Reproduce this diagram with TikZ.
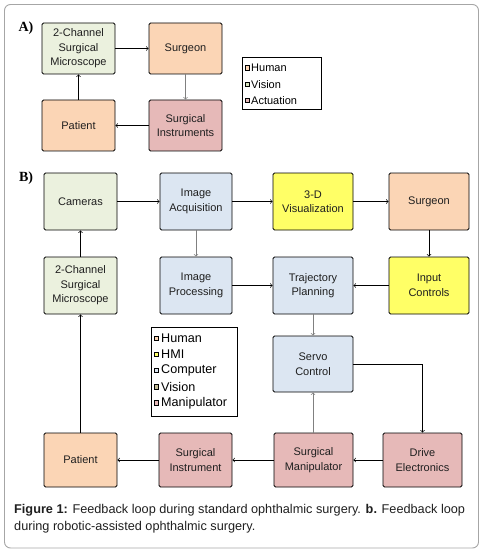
\documentclass[tikz,border=0pt]{standalone}
\usepackage{fontspec}
\setmainfont{Liberation Sans}
\newfontfamily\labelfont{Liberation Serif}
\usepackage{tikz}
\usetikzlibrary{positioning}
\definecolor{humanfill}{HTML}{FBD5B5}
\definecolor{visionfill}{HTML}{EBF1DE}
\definecolor{compfill}{HTML}{DCE6F2}
\definecolor{hmifill}{HTML}{FFFF66}
\definecolor{actfill}{HTML}{E6B9B8}
\definecolor{visionmark}{HTML}{C4BD97}
\definecolor{visionmarkA}{HTML}{D7E4BD}
\definecolor{framegray}{HTML}{A6A6A6}
\definecolor{textdark}{HTML}{1F1F1F}

\tikzset{
  block/.style={draw, line width=0.9pt, rounded corners=1.5pt, align=center,
    minimum width=#1, minimum height=57pt, inner sep=1pt, text=textdark,
    font=\fontsize{11}{14.5}\selectfont},
  block/.default=73pt,
  link/.style={->, line width=0.7pt},
  greylink/.style={->, line width=0.7pt, draw=gray},
  legbox/.style={draw, line width=0.8pt, inner sep=0pt},
  legmark/.style={draw, line width=0.5pt, minimum size=4.5pt, inner sep=0pt, fill=#1}
}

\begin{document}
\begin{tikzpicture}[x=1pt, y=-1pt]
            \useasboundingbox (0,0) rectangle (483,556);
            \draw[framegray, line width=0.9pt, rounded corners=6pt] (4.5,4.5) rectangle (478.5,548);

            % Part A
            \node (labA) at (26,28) {\labelfont\bfseries\fontsize{14}{14}\selectfont A)};
            \node[block, minimum height=51pt, fill=visionfill] (micA) at (78.5,48.5) {2-Channel\\Surgical\\Microscope};
            \node[block, minimum height=51pt, fill=humanfill] (surA) at (185.5,48.5) {Surgeon};
            \node[block, minimum height=51pt, fill=humanfill] (patA) at (78.5,125.5) {Patient};
            \node[block, minimum height=51pt, fill=actfill] (insA) at (185.5,125.5) {Surgical\\Instruments};

            \draw[link] (micA) -- (surA);
            \draw[greylink] (surA) -- (insA);
            \draw[link] (insA) -- (patA);
            \draw[link] (patA) -- (micA);

            % Legend A
            \draw[legbox] (242,57) rectangle (321,109);
            \node[legmark=humanfill] (mAh) at (247,68) {};
            \node[legmark=visionmarkA] (mAv) at (247,84.5) {};
            \node[legmark=actfill] (mAa) at (247,100.5) {};
            \node[anchor=west, inner sep=0pt, font=\fontsize{11}{12}\selectfont] at (251,68) {Human};
            \node[anchor=west, inner sep=0pt, font=\fontsize{11}{12}\selectfont] at (251,84.5) {Vision};
            \node[anchor=west, inner sep=0pt, font=\fontsize{11}{12}\selectfont] at (251,100.5) {Actuation};

            % Part B
            \node (labB) at (26,178) {\labelfont\bfseries\fontsize{14}{14}\selectfont B)};
            \node[block, fill=visionfill] (cam) at (80.5,201.5) {Cameras};
            \node[block=72pt, fill=compfill] (acq) at (196,201.5) {Image\\Acquisition};
            \node[block=80pt, fill=hmifill] (vis) at (313,201.5) {3-D\\Visualization};
            \node[block=80pt, fill=humanfill] (surB) at (429,201.5) {Surgeon};

            \node[block, fill=visionfill] (micB) at (80.5,285.5) {2-Channel\\Surgical\\Microscope};
            \node[block=72pt, fill=compfill] (proc) at (196,285.5) {Image\\Processing};
            \node[block=80pt, fill=compfill] (traj) at (313,285.5) {Trajectory\\Planning};
            \node[block=80pt, fill=hmifill] (inp) at (429,285.5) {Input\\Controls};

            \node[block=80pt, minimum height=56pt, fill=compfill] (servo) at (313,364) {Servo\\Control};

            \node[block, minimum height=54pt, fill=humanfill] (patB) at (80.5,460) {Patient};
            \node[block, minimum height=54pt, fill=actfill] (inst) at (195.5,460) {Surgical\\Instrument};
            \node[block=79pt, minimum height=54pt, fill=actfill] (man) at (313.5,460) {Surgical\\Manipulator};
            \node[block=79pt, minimum height=54pt, fill=actfill] (drv) at (422.5,460) {Drive\\Electronics};

            % Connections B
            \draw[link] (cam) -- (acq);
            \draw[link] (acq) -- (vis);
            \draw[link] (vis) -- (surB);
            \draw[link] (surB) -- (inp);
            \draw[link] (inp) -- (traj);
            \draw[link] (proc) -- (traj);
            \draw[greylink] (acq) -- (proc);
            \draw[link] (micB) -- (cam);
            \draw[link] (patB) -- (micB);
            \draw[greylink] (traj) -- (servo);
            \draw[link] (servo.east) -| (drv.north);
            \draw[greylink] (man.north -| servo.south) -- (servo.south);
            \draw[link] (drv) -- (man);
            \draw[link] (man) -- (inst);
            \draw[link] (inst) -- (patB);

            % Legend B
            \draw[legbox] (151,327) rectangle (237,416.5);
            \foreach \col/\txt [count=\i] in {humanfill/Human, hmifill/HMI, compfill/Computer, visionmark/Vision, actfill/Manipulator} {
              \node[legmark=\col] (mB\i) at (156,338+16.2*\i-16.2) {};
              \node[anchor=west, inner sep=0pt, font=\fontsize{12.6}{13}\selectfont] at (161,338+16.2*\i-16.2) {\txt};
            }

            % Caption
            \node[anchor=north west, align=left, inner sep=0pt, text=textdark,
              font=\fontsize{12.7}{17}\selectfont] (cap) at (14,504) {\textbf{Figure 1:} Feedback loop during standard ophthalmic surgery. \textbf{b.} Feedback loop\\during robotic-assisted ophthalmic surgery.};
\end{tikzpicture}
\end{document}
